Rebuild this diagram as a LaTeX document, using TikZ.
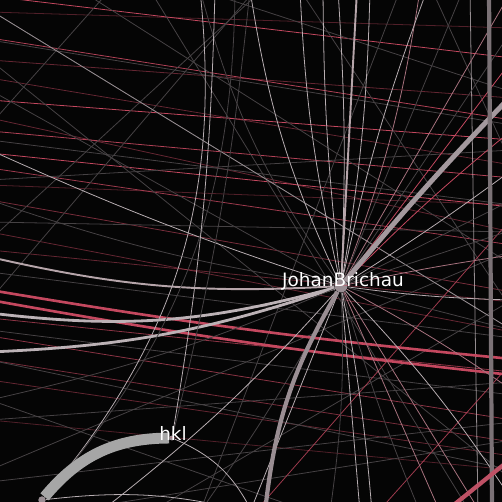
\documentclass[tikz,border=0pt]{standalone}
\usepackage{fontspec}
\setmainfont{DejaVu Sans}
\usepackage{tikz}

\definecolor{bgblack}{HTML}{050505}
\definecolor{linkred}{HTML}{C4485F}
\definecolor{linkpink}{HTML}{A8737F}
\definecolor{linklight}{HTML}{B8AEB2}
\definecolor{linkgrey}{HTML}{9A8E93}
\definecolor{linkdim}{HTML}{464244}
\definecolor{arcgrey}{HTML}{A6A6A6}

\tikzset{
  link/.style={line width=0.45pt},
  redlink/.style={link, draw=linkred},
  pinklink/.style={link, draw=linkpink},
  lightlink/.style={link, draw=linklight},
  dimlink/.style={link, draw=linkdim},
  midlink/.style={line width=1.1pt, draw=linklight!85!linkpink},
  widelink/.style={line width=1.6pt, draw=linklight!95!white},
  heavylink/.style={line width=2.4pt, draw=linkgrey},
  person/.style={circle, fill=linkgrey, inner sep=2.6pt},
  namelabel/.style={text=white, font=\fontsize{10.5}{12}\selectfont, inner sep=0pt}
}

\begin{document}
\begin{tikzpicture}[x=0.02cm,y=-0.02cm]
\useasboundingbox (0,0) rectangle (502,502);
\fill[bgblack] (0,0) rectangle (502,502);
\begin{scope}
\clip (0,0) rectangle (502,502);

% people
\node[person] (hub) at (341,286) {};
\node[person, inner sep=1pt] (hkl) at (172,438) {};
\node[person, inner sep=1.5pt] (corner) at (42,500) {};

% links between people outside the view
\foreach \a/\b/\o [count=\i] in {-4/58/1, 38/120/0.9, 60/98/0.5, 100/140/1, 118/232/0.5,
    131/178/0.9, 153/207/1, 168/245/0.8, 185/205/0.4, 200/292/0.6, 232/332/0.5,
    250/302/0.5, 318/372/0.7, 336/420/0.7, 360/442/0.6, 380/456/0.5, 420/470/0.4,
    12/28/0.4, 78/165/0.5} {
  \coordinate (rl\i) at (-10,\a);
  \coordinate (rr\i) at (512,\b);
  \draw[redlink, opacity=\o] (rl\i) -- (rr\i);
}
\foreach \a/\b/\c/\d [count=\i] in {-10/10/512/330, -10/40/512/125, 80/-10/512/265,
    -10/240/262/-10, -10/470/512/250, -10/400/310/512, 110/-10/-10/125, 150/512/512/300,
    -10/140/512/205, -10/222/512/232, -10/272/512/338, -10/420/512/382, -10/482/512/422,
    200/-10/512/92, 255/-10/-10/300, 400/-10/200/512, -10/60/512/480, 432/-10/512/165,
    300/-10/512/310, -10/330/512/395, -10/180/512/150, 60/512/512/440, -10/360/512/470,
    150/-10/470/512} {
  \coordinate (gs\i) at (\a,\b);
  \coordinate (ge\i) at (\c,\d);
  \draw[dimlink] (gs\i) -- (ge\i);
}
\coordinate (ta) at (-10,10);   \coordinate (tb) at (512,330);
\draw[lightlink, opacity=0.7] (ta) -- (tb);
\coordinate (va) at (470,-10);  \coordinate (vb) at (478,512);
\draw[lightlink, opacity=0.8] (va) -- (vb);
\coordinate (da) at (255,512);  \coordinate (db) at (512,218);
\draw[redlink, opacity=0.8] (da) -- (db);
\coordinate (dc) at (378,512);  \coordinate (dd) at (512,362);
\draw[redlink, opacity=0.8] (dc) -- (dd);

% thick red pair
\coordinate (ka) at (-10,290);  \coordinate (kb) at (512,359);
\draw[redlink, line width=1.5pt] (ka) to[bend right=2] (kb);
\coordinate (kc) at (-10,300);  \coordinate (kd) at (512,375);
\draw[redlink, line width=1.5pt] (kc) to[bend right=2] (kd);

% links of JohanBrichau
\foreach \x/\y/\b/\s [count=\i] in {300/-10/5/lightlink, 323/-10/3/lightlink,
    338/-10/-3/lightlink, 357/-10/0/midlink, 370/-10/-4/lightlink, 420/-10/-6/pinklink,
    427/-10/4/lightlink, 463/-10/0/dimlink, 250/-10/8/lightlink, 200/-10/10/dimlink,
    512/60/0/redlink, 512/130/3/redlink, 512/-10/0/pinklink, 512/170/-2/lightlink,
    512/30/0/dimlink, 512/200/0/dimlink, 512/230/0/dimlink, 512/255/2/pinklink,
    512/300/-3/lightlink, 512/330/0/dimlink, 512/390/3/pinklink, 360/512/0/lightlink,
    372/512/3/lightlink, 480/512/0/pinklink, 512/500/5/lightlink, 420/512/-3/dimlink,
    330/512/5/dimlink, 440/512/0/pinklink, -10/257/8/midlink, -10/313/11/widelink,
    -10/352/8/widelink, -10/200/5/dimlink, -10/150/3/lightlink, -10/400/5/dimlink,
    100/512/5/lightlink, 200/512/3/dimlink, -10/90/0/dimlink, 250/512/0/lightlink} {
  \coordinate (he\i) at (\x,\y);
  \draw[\s] (hub) to[bend left=\b] (he\i);
}
\coordinate (hs) at (265,512);
\draw[heavylink] (hub) to[bend right=12] (hs);
\coordinate (hn) at (512,95);
\draw[heavylink, line width=2.8pt, draw=linkgrey!90!white] (hub) to[bend left=2] (hn);
\coordinate (vt) at (489,-10);  \coordinate (vd) at (492,512);
\draw[heavylink, draw=linkgrey!80!black] (vt) -- (vd);
\coordinate (pa) at (445,512);  \coordinate (pb) at (512,458);
\draw[heavylink, draw=linkred!80!linkpink] (pa) -- (pb);

% links of hkl and the corner
\coordinate (ca) at (200,-10);  \coordinate (cb) at (235,-10);
\draw[lightlink] (corner) to[bend right=23] (ca);
\draw[dimlink] (corner) to[bend right=20] (cb);
\coordinate (cc) at (250,512);
\draw[lightlink] (corner) to[bend left=10] (cc);
\coordinate (ka2) at (215,-10); \coordinate (kb2) at (250,-10);
\draw[lightlink] (hkl) to[bend right=4] (ka2);
\draw[dimlink] (hkl) to[bend right=4] (kb2);
\coordinate (kc2) at (252,512);
\draw[lightlink] (hkl) to[bend left=20] (kc2);
\draw[line width=6.2pt, draw=arcgrey] (hkl) to[bend right=25] (corner);
\end{scope}

\node[namelabel] (hublabel) at (343,281) {JohanBrichau};
\node[namelabel] (hkllabel) at (173,433) {hkl};
\end{tikzpicture}
\end{document}
